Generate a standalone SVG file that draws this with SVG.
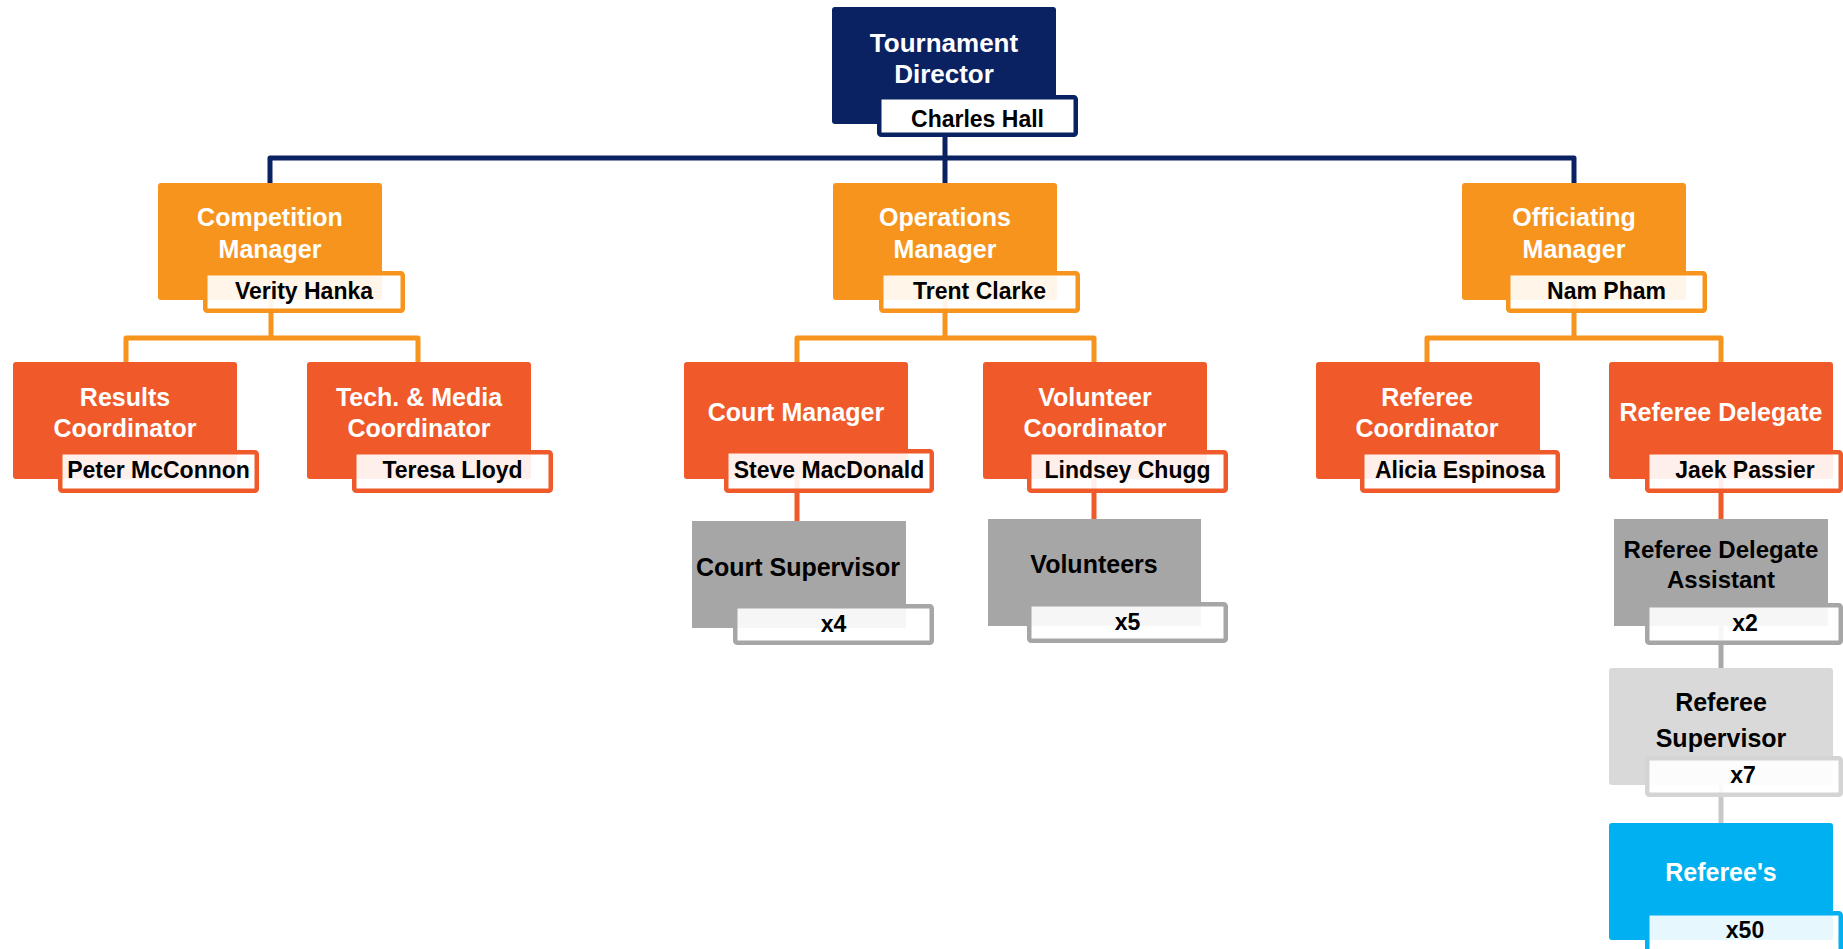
<svg xmlns="http://www.w3.org/2000/svg" width="1843" height="949" viewBox="0 0 1843 949">
<style>
text{font-family:"Liberation Sans",Arial,sans-serif;font-weight:bold;text-anchor:middle}
.t{font-size:25px;fill:#fff}
.td{font-size:25px;fill:#000}
.n{font-size:23px;fill:#000}
.navy{fill:#0a2162}
.mgr{fill:#f7941d}
.crd{fill:#f05a2b}
.gry{fill:#a6a6a6}
.lgr{fill:#d9d9d9}
.blu{fill:#00b0f0}
.nb{fill:#fff;fill-opacity:0.9;stroke-width:4.5}
.c{fill:none;stroke-width:5;stroke-linejoin:round;stroke-linecap:butt}
</style>
<rect width="1843" height="949" fill="#fff"/>
<g id="connectors">
<path class="c" stroke="#0a2162" d="M945,137 V183 M270,183 V158 H1574 V183"/>
<path class="c" stroke="#f7941d" d="M271,283 V338 M126,362 V338 H418 V362"/>
<path class="c" stroke="#f7941d" d="M945,283 V338 M797,362 V338 H1094 V362"/>
<path class="c" stroke="#f7941d" d="M1574,283 V338 M1427,362 V338 H1721 V362"/>
<path class="c" stroke="#f05a2b" d="M797,460 V521 M1094,460 V519 M1721,460 V519"/>
<path class="c" stroke="#a9a9a9" d="M1721,620 V668"/>
<path class="c" stroke="#c8c8c8" d="M1721,770 V823"/>
</g>
<g id="director">
<rect class="navy" x="832" y="7" width="224" height="117" rx="3"/>
<text class="t" x="944" y="52" style="font-size:26px">Tournament</text>
<text class="t" x="944" y="83" style="font-size:26px">Director</text>
<rect class="nb" stroke="#0a2162" style="fill-opacity:1" x="879.25" y="97.25" width="196.5" height="37.5" rx="2"/>
<text class="n" x="977.5" y="127">Charles Hall</text>
</g>
<g id="competition-manager">
<rect class="mgr" x="158" y="183" width="224" height="117" rx="3"/>
<text class="t" x="270" y="226">Competition</text>
<text class="t" x="270" y="258">Manager</text>
<rect class="nb" stroke="#f7941d" x="205.25" y="273.25" width="197.5" height="37.5" rx="2"/>
<text class="n" x="304" y="299">Verity Hanka</text>
</g>
<g id="operations-manager">
<rect class="mgr" x="833" y="183" width="224" height="117" rx="3"/>
<text class="t" x="945" y="226">Operations</text>
<text class="t" x="945" y="258">Manager</text>
<rect class="nb" stroke="#f7941d" x="881.25" y="273.25" width="196.5" height="37.5" rx="2"/>
<text class="n" x="979.5" y="299">Trent Clarke</text>
</g>
<g id="officiating-manager">
<rect class="mgr" x="1462" y="183" width="224" height="117" rx="3"/>
<text class="t" x="1574" y="226">Officiating</text>
<text class="t" x="1574" y="258">Manager</text>
<rect class="nb" stroke="#f7941d" x="1508.25" y="273.25" width="196.5" height="37.5" rx="2"/>
<text class="n" x="1606.5" y="299">Nam Pham</text>
</g>
<g id="results-coordinator">
<rect class="crd" x="13" y="362" width="224" height="117" rx="3"/>
<text class="t" x="125" y="406">Results</text>
<text class="t" x="125" y="437">Coordinator</text>
<rect class="nb" stroke="#f05a2b" x="60.25" y="452.25" width="196.5" height="38.5" rx="2"/>
<text class="n" x="158.5" y="478">Peter McConnon</text>
</g>
<g id="tech-media-coordinator">
<rect class="crd" x="307" y="362" width="224" height="117" rx="3"/>
<text class="t" x="419" y="406">Tech. &amp; Media</text>
<text class="t" x="419" y="437">Coordinator</text>
<rect class="nb" stroke="#f05a2b" x="354.25" y="452.25" width="196.5" height="38.5" rx="2"/>
<text class="n" x="452.5" y="478">Teresa Lloyd</text>
</g>
<g id="court-manager">
<rect class="crd" x="684" y="362" width="224" height="117" rx="3"/>
<text class="t" x="796" y="421">Court Manager</text>
<rect class="nb" stroke="#f05a2b" x="726.25" y="451.25" width="205.5" height="39.5" rx="2"/>
<text class="n" x="829" y="478">Steve MacDonald</text>
</g>
<g id="volunteer-coordinator">
<rect class="crd" x="983" y="362" width="224" height="117" rx="3"/>
<text class="t" x="1095" y="406">Volunteer</text>
<text class="t" x="1095" y="437">Coordinator</text>
<rect class="nb" stroke="#f05a2b" x="1029.25" y="452.25" width="196.5" height="38.5" rx="2"/>
<text class="n" x="1127.5" y="478">Lindsey Chugg</text>
</g>
<g id="referee-coordinator">
<rect class="crd" x="1316" y="362" width="224" height="117" rx="3"/>
<text class="t" x="1427" y="406">Referee</text>
<text class="t" x="1427" y="437">Coordinator</text>
<rect class="nb" stroke="#f05a2b" x="1362.25" y="452.25" width="195.5" height="38.5" rx="2"/>
<text class="n" x="1460" y="478">Alicia Espinosa</text>
</g>
<g id="referee-delegate">
<rect class="crd" x="1609" y="362" width="224" height="117" rx="3"/>
<text class="t" x="1721" y="421">Referee Delegate</text>
<rect class="nb" stroke="#f05a2b" x="1647.25" y="452.25" width="193.5" height="38.5" rx="2"/>
<text class="n" x="1745" y="478">Jaek Passier</text>
</g>
<g id="court-supervisor">
<rect class="gry" x="692" y="521" width="214" height="107"/>
<text class="td" x="798" y="576">Court Supervisor</text>
<rect class="nb" stroke="#a6a6a6" x="735.25" y="606.25" width="196.5" height="36.5" rx="2"/>
<text class="n" x="833.5" y="632">x4</text>
</g>
<g id="volunteers">
<rect class="gry" x="988" y="519" width="213" height="107"/>
<text class="td" x="1094" y="573">Volunteers</text>
<rect class="nb" stroke="#a6a6a6" x="1029.25" y="604.25" width="196.5" height="36.5" rx="2"/>
<text class="n" x="1127.5" y="630">x5</text>
</g>
<g id="referee-delegate-assistant">
<rect class="gry" x="1614" y="519" width="214" height="107"/>
<text class="td" x="1721" y="558" style="font-size:24px">Referee Delegate</text>
<text class="td" x="1721" y="588" style="font-size:24px">Assistant</text>
<rect class="nb" stroke="#a6a6a6" x="1647.25" y="605.25" width="193.5" height="37.5" rx="2"/>
<text class="n" x="1745" y="631">x2</text>
</g>
<g id="referee-supervisor">
<rect class="lgr" x="1609" y="668" width="224" height="117" rx="3"/>
<text class="td" x="1721" y="711">Referee</text>
<text class="td" x="1721" y="747">Supervisor</text>
<rect class="nb" stroke="#d4d4d4" x="1647.25" y="758.25" width="193.5" height="36.5" rx="2"/>
<text class="n" x="1743" y="783">x7</text>
</g>
<g id="referees">
<rect class="blu" x="1609" y="823" width="224" height="117" rx="3"/>
<text class="t" x="1721" y="881">Referee's</text>
<rect class="nb" stroke="#00b0f0" x="1647.25" y="913.25" width="193.5" height="40" rx="2"/>
<text class="n" x="1745" y="938">x50</text>
</g>
</svg>
